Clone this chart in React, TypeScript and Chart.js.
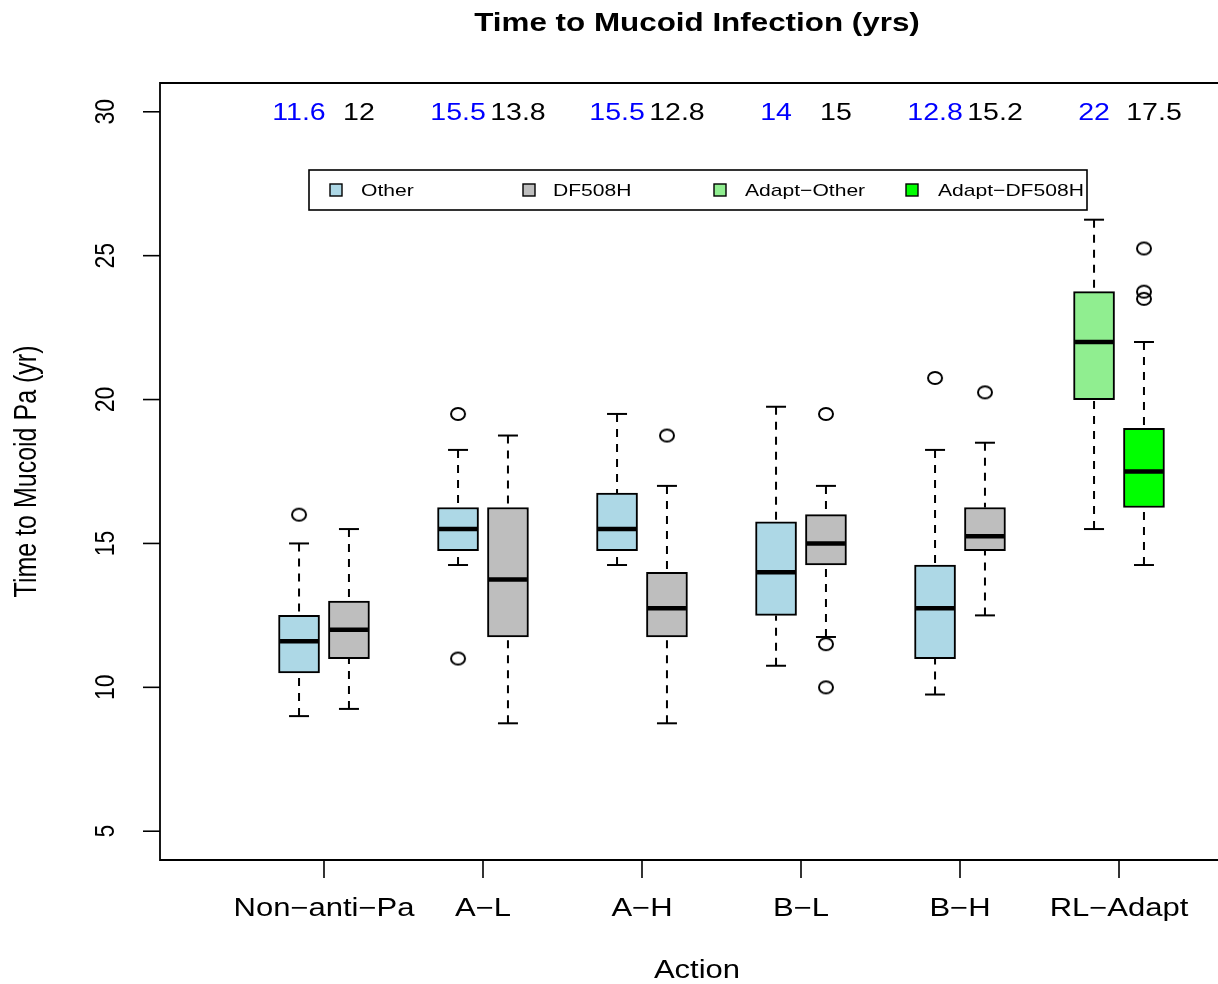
import React, { useEffect, useRef } from 'react';
import { Chart, registerables } from 'chart.js';

Chart.register(...registerables);

// ---- data ----
const categories = ['Non−anti−Pa', 'A−L', 'A−H', 'B−L', 'B−H', 'RL−Adapt'];
const yTicks = [5, 10, 15, 20, 25, 30];

const otherMin = [9, 14.25, 14.25, 10.75, 9.75, 15.5];
const otherQ1 = [10.5, 14.75, 14.75, 12.5, 11, 20];
const otherMed = [11.6, 15.5, 15.5, 14, 12.75, 22];
const otherQ3 = [12.5, 16.25, 16.75, 15.75, 14.25, 23.75];
const otherMax = [15, 18.25, 19.5, 19.75, 18.25, 26.25];
const otherOut = [[16], [19.5, 11], [], [], [20.75], []];

const dfMin = [9.25, 8.75, 8.75, 11.75, 12.5, 14.25];
const dfQ1 = [11, 11.75, 11.75, 14.25, 14.75, 16.25];
const dfMed = [12, 13.75, 12.75, 15, 15.25, 17.5];
const dfQ3 = [13, 16.25, 14, 16, 16.25, 19];
const dfMax = [15.5, 18.75, 17, 17, 18.5, 22];
const dfOut = [[], [], [18.75], [19.5, 11.5, 10], [20.25], [25.25, 23.75, 23.5]];

const otherLabels = ['11.6', '15.5', '15.5', '14', '12.8', '22'];
const dfLabels = ['12', '13.8', '12.8', '15', '15.2', '17.5'];

const legendLabels = ['Other', 'DF508H', 'Adapt−Other', 'Adapt−DF508H'];
const legendColors = ['#ADD8E6', '#BEBEBE', '#90EE90', '#00FF00'];

const titleText = 'Time to Mucoid Infection (yrs)';
const xTitle = 'Action';
const yTitle = 'Time to Mucoid Pa (yr)';

// ---- layout constants ----
const W = 1218;
const H = 984;
const OFF = 0.157; // box offset from group centre
const LABEL_OFF = 0.063;
const XMIN = -0.0314;
const XMAX = 6.6226;
const STRETCH = 1.24;
const FONT = '"Liberation Sans", Arial, Helvetica, sans-serif';

type Box = { x: number; q1: number; med: number; q3: number; min: number; max: number; color: string };

const boxes: Box[] = [];
categories.forEach((_, i) => {
  const adapt = i === categories.length - 1;
  boxes.push({
    x: i + 1 - OFF, q1: otherQ1[i], med: otherMed[i], q3: otherQ3[i], min: otherMin[i], max: otherMax[i],
    color: adapt ? legendColors[2] : legendColors[0],
  });
  boxes.push({
    x: i + 1 + OFF, q1: dfQ1[i], med: dfMed[i], q3: dfQ3[i], min: dfMin[i], max: dfMax[i],
    color: adapt ? legendColors[3] : legendColors[1],
  });
});

const outlierPoints: { x: number; y: number }[] = [];
categories.forEach((_, i) => {
  otherOut[i].forEach((v) => outlierPoints.push({ x: i + 1 - OFF, y: v }));
  dfOut[i].forEach((v) => outlierPoints.push({ x: i + 1 + OFF, y: v }));
});

function drawText(
  ctx: CanvasRenderingContext2D, text: string, x: number, y: number, font: string,
  color = '#000', align: CanvasTextAlign = 'center', vertical = false,
) {
  ctx.save();
  ctx.translate(x, y);
  ctx.scale(STRETCH, 1);
  if (vertical) ctx.rotate(-Math.PI / 2);
  ctx.font = font;
  ctx.fillStyle = color;
  ctx.textAlign = align;
  ctx.textBaseline = 'alphabetic';
  ctx.fillText(text, 0, 0);
  ctx.restore();
}

function line(ctx: CanvasRenderingContext2D, x1: number, y1: number, x2: number, y2: number) {
  ctx.beginPath();
  ctx.moveTo(x1, y1);
  ctx.lineTo(x2, y2);
  ctx.stroke();
}

const boxPlugin = {
  id: 'boxDecor',
  afterDatasetsDraw(chart: any) {
    const { ctx, scales } = chart;
    const xs = scales.x;
    const ys = scales.y;
    ctx.save();
    ctx.strokeStyle = '#000';
    boxes.forEach((b) => {
      const px = xs.getPixelForValue(b.x);
      const half = 20;
      ctx.lineWidth = 2;
      ctx.setLineDash([8, 7]);
      line(ctx, px, ys.getPixelForValue(b.max), px, ys.getPixelForValue(b.q3));
      line(ctx, px, ys.getPixelForValue(b.min), px, ys.getPixelForValue(b.q1));
      ctx.setLineDash([]);
      line(ctx, px - half / 2, ys.getPixelForValue(b.max), px + half / 2, ys.getPixelForValue(b.max));
      line(ctx, px - half / 2, ys.getPixelForValue(b.min), px + half / 2, ys.getPixelForValue(b.min));
      ctx.lineWidth = 4.5;
      line(ctx, px - half + 1, ys.getPixelForValue(b.med), px + half - 1, ys.getPixelForValue(b.med));
    });
    ctx.restore();
  },
  afterDraw(chart: any) {
    const { ctx, scales, chartArea } = chart;
    const xs = scales.x;
    const ys = scales.y;
    const { left, top, right, bottom } = chartArea;
    ctx.save();
    // frame (right side lies beyond the canvas)
    ctx.strokeStyle = '#000';
    ctx.lineWidth = 1.8;
    ctx.beginPath();
    ctx.moveTo(right + 2, top);
    ctx.lineTo(left, top);
    ctx.lineTo(left, bottom);
    ctx.lineTo(right + 2, bottom);
    ctx.stroke();

    ctx.lineWidth = 1.6;
    // y axis ticks + labels
    yTicks.forEach((t) => {
      const py = ys.getPixelForValue(t);
      line(ctx, left - 17, py, left, py);
      drawText(ctx, String(t), 113.5, py, `23px ${FONT}`, '#000', 'center', true);
    });
    // x axis ticks + labels
    categories.forEach((c, i) => {
      const px = xs.getPixelForValue(i + 1);
      line(ctx, px, bottom, px, bottom + 18);
      drawText(ctx, c, px, bottom + 56, `25px ${FONT}`);
    });

    // titles
    drawText(ctx, titleText, 697, 31, `bold 25.3px ${FONT}`);
    drawText(ctx, xTitle, 697, 978, `25px ${FONT}`);
    drawText(ctx, yTitle, 36, (top + bottom) / 2, `25px ${FONT}`, '#000', 'center', true);

    // median annotations
    const ly = ys.getPixelForValue(30) + 8.5;
    categories.forEach((_, i) => {
      drawText(ctx, otherLabels[i], xs.getPixelForValue(i + 1 - OFF), ly, `23px ${FONT}`, '#0000FF');
      drawText(ctx, dfLabels[i], xs.getPixelForValue(i + 1 + OFF + LABEL_OFF), ly, `23px ${FONT}`, '#000');
    });

    // legend
    ctx.lineWidth = 1.6;
    ctx.strokeStyle = '#000';
    ctx.strokeRect(309, 170, 778, 40);
    const sq = [336, 529, 720, 912];
    const tx = [361, 553, 745, 938];
    legendLabels.forEach((lab, i) => {
      ctx.fillStyle = legendColors[i];
      ctx.fillRect(sq[i] - 6, 184, 12, 12);
      ctx.lineWidth = 1.4;
      ctx.strokeRect(sq[i] - 6, 184, 12, 12);
      drawText(ctx, lab, tx[i], 196, `17px ${FONT}`, '#000', 'left');
    });
    ctx.restore();
  },
};

export default function App() {
  const ref = useRef<HTMLCanvasElement | null>(null);
  useEffect(() => {
    if (!ref.current) return;
    const ell = document.createElement('canvas');
    ell.width = 18;
    ell.height = 16;
    const ec = ell.getContext('2d')!;
    ec.strokeStyle = '#000';
    ec.lineWidth = 2;
    ec.beginPath();
    ec.ellipse(9, 8, 7, 6, 0, 0, Math.PI * 2);
    ec.stroke();

    const chart = new Chart(ref.current, {
      type: 'bar',
      data: {
        datasets: [
          {
            type: 'bar',
            data: boxes.map((b) => ({ x: b.x, y: [b.q1, b.q3] })) as any,
            backgroundColor: boxes.map((b) => b.color),
            borderColor: '#000',
            borderWidth: 2,
            borderSkipped: false,
            barThickness: 41,
          } as any,
          {
            type: 'scatter',
            data: outlierPoints as any,
            pointStyle: ell as any,
            pointRadius: 7,
            borderColor: '#000',
            backgroundColor: 'rgba(0,0,0,0)',
          } as any,
        ],
      },
      options: {
        animation: false,
        responsive: false,
        devicePixelRatio: 1,
        layout: { autoPadding: false, padding: { left: 160, top: 83, right: 0, bottom: 124 } },
        plugins: {
          legend: { display: false },
          title: { display: false },
          tooltip: { enabled: false },
        },
        scales: {
          x: { type: 'linear', display: false, min: XMIN, max: XMAX, offset: false },
          y: { type: 'linear', display: false, min: 4, max: 31 },
        },
      } as any,
      plugins: [boxPlugin as any],
    });
    return () => chart.destroy();
  }, []);
  return (
    <div style={{ position: 'absolute', left: 0, top: 0, width: W, height: H, background: '#fff' }}>
      <canvas ref={ref} width={W} height={H} style={{ width: W, height: H, display: 'block' }} />
    </div>
  );
}
